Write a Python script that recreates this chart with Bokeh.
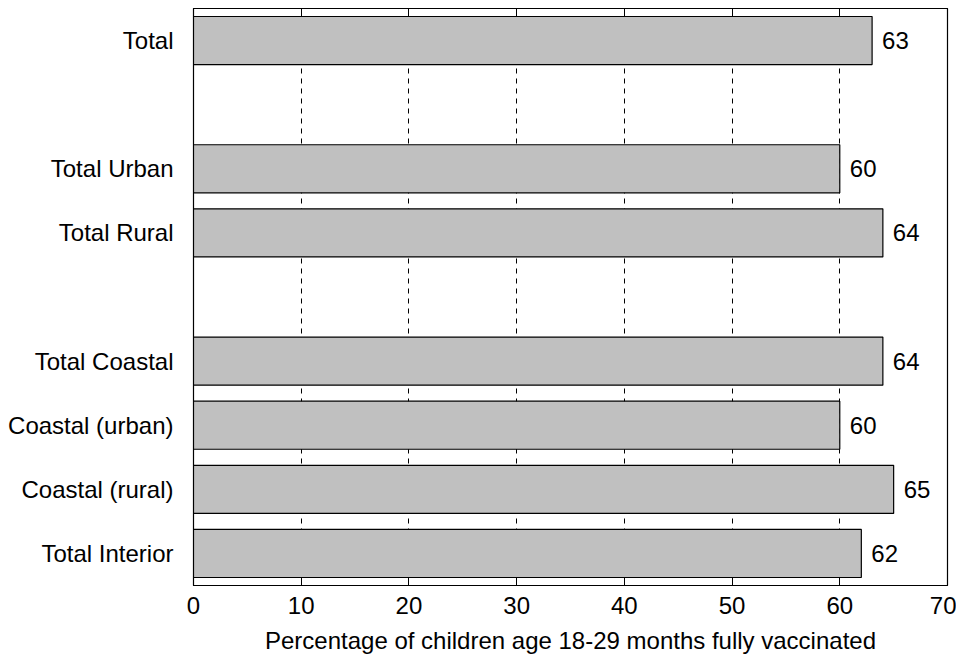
from bokeh.plotting import figure
from bokeh.models import ColumnDataSource, Range1d, LinearAxis, FixedTicker
from bokeh.core.properties import value
from bokeh.embed import file_html
from bokeh.resources import INLINE

categories = ["Total", "", "Total Urban", "Total Rural", "", "Total Coastal",
              "Coastal (urban)", "Coastal (rural)", "Total Interior"]
values = [63, None, 60, 64, None, 64, 60, 65, 62]
x_ticks = [0, 10, 20, 30, 40, 50, 60, 70]

pos = [i for i, c in enumerate(categories) if c]
vals = [values[i] for i in pos]
labs = [categories[i] for i in pos]
src = ColumnDataSource(dict(y=pos, v=vals, t=[str(v) for v in vals]))

FONT = "Liberation Sans"
FS = "24px"
p = figure(width=956, height=660, output_backend="svg", toolbar_location=None,
           x_range=Range1d(0, 70), y_range=Range1d(len(categories) - 0.5, -0.5),
           min_border_left=193, min_border_right=9, min_border_top=8, min_border_bottom=75)
p.outline_line_color = "black"
p.outline_line_width = 1.2

p.hbar(y="y", right="v", left=0, height=0.75, source=src,
       fill_color="#c0c0c0", line_color="black", line_width=1.2)
p.text(x="v", y="y", text="t", source=src, x_offset=10, text_baseline="middle",
       text_font=value(FONT), text_font_size=FS, text_color="black")

xa = p.xaxis[0]
xa.ticker = FixedTicker(ticks=x_ticks)
xa.major_tick_in = 8
xa.major_tick_out = 0
xa.major_tick_line_color = "black"
xa.minor_tick_line_color = None
xa.major_label_text_font = FONT
xa.major_label_text_font_size = FS
xa.major_label_text_color = "black"
xa.major_label_standoff = 11
xa.axis_label = "Percentage of children age 18-29 months fully vaccinated"
xa.axis_label_text_font = FONT
xa.axis_label_text_font_size = FS
xa.axis_label_text_font_style = "normal"
xa.axis_label_text_color = "black"
xa.axis_label_standoff = 10
xa.axis_line_color = "black"

top = LinearAxis(ticker=FixedTicker(ticks=x_ticks), major_tick_in=8, major_tick_out=0,
                 major_tick_line_color="black", minor_tick_line_color=None,
                 major_label_text_font_size="0px", major_label_text_color=None,
                 major_label_standoff=0)
p.add_layout(top, "above")

ya = p.yaxis[0]
ya.ticker = FixedTicker(ticks=pos)
ya.major_label_overrides = {k: l for k, l in zip(pos, labs)}
ya.major_tick_line_color = None
ya.minor_tick_line_color = None
ya.major_label_text_font = FONT
ya.major_label_text_font_size = FS
ya.major_label_text_color = "black"
ya.major_label_standoff = 14
ya.axis_line_color = "black"

p.ygrid.grid_line_color = None
p.xgrid.ticker = FixedTicker(ticks=x_ticks[1:-1])
p.xgrid.grid_line_color = "black"
p.xgrid.grid_line_dash = "5 5"
p.xgrid.grid_line_width = 1

open("out.html", "w").write(file_html(p, INLINE))
